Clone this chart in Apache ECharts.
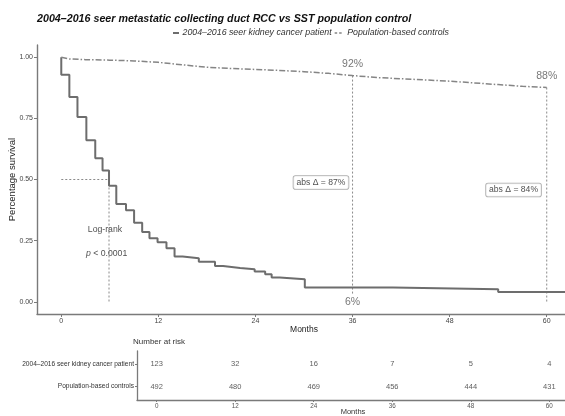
<!DOCTYPE html>
<html>
<head>
<meta charset="utf-8">
<script src="https://cdn.jsdelivr.net/npm/echarts@6/dist/echarts.min.js"></script>
<style>
html,body{margin:0;padding:0;background:#fff;}
#c{width:565px;height:416px;}
</style>
</head>
<body>
<div id="c"></div>
<script>
const chartTitle = '2004–2016 seer metastatic collecting duct RCC vs SST population control';
const seriesNames = ['2004–2016 seer kidney cancer patient', 'Population-based controls'];

// Kaplan-Meier estimates (months, survival)
const cancerMonths = [0, 0, 1, 2, 3.1, 4.2, 5.1, 5.9, 6.8, 8.0, 9.0, 10.0, 10.9, 11.9, 13.0, 14.0, 15.0, 17.0, 19.0, 20.0, 22.1, 23.9, 25.2, 26.0, 27.0, 30.1, 41.0, 54.0, 63];
const cancerSurv   = [1.0, 0.928, 0.837, 0.756, 0.661, 0.587, 0.537, 0.474, 0.400, 0.374, 0.323, 0.285, 0.260, 0.243, 0.219, 0.185, 0.178, 0.164, 0.146, 0.138, 0.133, 0.124, 0.113, 0.099, 0.092, 0.058, 0.051, 0.040, 0.040];

const controlMonths = [0, 1, 3, 6, 9, 12, 15, 18, 21, 24, 27, 30, 33, 36, 39, 42, 45, 48, 51, 54, 57, 60];
const controlSurv   = [1.0, 0.993, 0.990, 0.988, 0.985, 0.979, 0.969, 0.959, 0.954, 0.950, 0.946, 0.941, 0.934, 0.925, 0.917, 0.912, 0.907, 0.902, 0.895, 0.888, 0.881, 0.876];

const xTicks = [0, 12, 24, 36, 48, 60];
const yTicks = [0, 0.25, 0.5, 0.75, 1];

const riskMonths  = [0, 12, 24, 36, 48, 60];
const riskCancer  = [123, 32, 16, 7, 5, 4];
const riskControl = [492, 480, 469, 456, 444, 431];

const medianSurvival = 0.5;
const medianMonth = 5.9;
const milestoneMonths = [36, 60];
const milestoneControl = ['92%', '88%'];
const milestoneCancer = ['6%'];
const absDelta = ['abs Δ = 87%', 'abs Δ = 84%'];

const FONT = 'Liberation Sans, Arial, sans-serif';
const axisColor = '#7a7a7a';
const cancerColor = '#6d6d6d';
const controlColor = '#858585';
const controlDash = [6, 2, 1.5, 2];

const chart = echarts.init(document.getElementById('c'), null, {renderer: 'canvas'});

function zip(a, b) { return a.map((v, i) => [v, b[i]]); }

const dotted = {color: '#8a8a8a', width: 1, type: [2, 2]};
function segment(points) {
  return {
    type: 'line', data: points, symbol: 'none', silent: true,
    lineStyle: dotted, xAxisIndex: 0, yAxisIndex: 0, z: 1, animation: false
  };
}

const pctLabel = {fontSize: 10.5, color: '#555', fontFamily: FONT};
const boxLabel = {fontSize: 8.6, color: '#222', fontFamily: FONT, backgroundColor: '#fff',
  borderColor: '#9a9a9a', borderWidth: 0.8, borderRadius: 2, padding: [2, 3, 2, 3]};
const noteLabel = {fontSize: 8.7, color: '#222', fontFamily: FONT};

const annotations = [
  {value: [milestoneMonths[0], 0.972], text: milestoneControl[0], style: pctLabel},
  {value: [milestoneMonths[1], 0.923], text: milestoneControl[1], style: pctLabel},
  {value: [milestoneMonths[0], 0.0], text: milestoneCancer[0], style: pctLabel},
  {value: [32.1, 0.488], text: absDelta[0], style: boxLabel},
  {value: [55.9, 0.457], text: absDelta[1], style: boxLabel},
  {value: [5.4, 0.296], text: 'Log-rank', style: noteLabel},
  {value: [5.6, 0.198], text: '{i|p} < 0.0001', style: Object.assign({rich: {i: {fontStyle: 'italic', fontSize: 8.7, color: '#222', fontFamily: FONT}}}, noteLabel)}
];

const riskData = [];
riskMonths.forEach((m, i) => {
  riskData.push([m, 1, riskCancer[i]]);
  riskData.push([m, 0, riskControl[i]]);
});

// custom legend (measured text)
const legendFont = 'italic 8.8px ' + FONT;
const ctx = document.createElement('canvas').getContext('2d');
ctx.font = legendFont;
const w0 = ctx.measureText(seriesNames[0]).width;
const legY = 33;
let lx = 173;
const legendGraphics = [];
legendGraphics.push({type: 'line', shape: {x1: lx, y1: legY, x2: lx + 6, y2: legY},
  style: {stroke: cancerColor, lineWidth: 2}});
lx += 9.5;
legendGraphics.push({type: 'text', x: lx, y: legY, style: {text: seriesNames[0], font: legendFont,
  fill: '#333', textVerticalAlign: 'middle'}});
lx += w0 + 3;
legendGraphics.push({type: 'line', shape: {x1: lx, y1: legY, x2: lx + 9, y2: legY},
  style: {stroke: controlColor, lineWidth: 1.5, lineDash: [2.5, 2]}});
lx += 12.5;
legendGraphics.push({type: 'text', x: lx, y: legY, style: {text: seriesNames[1], font: legendFont,
  fill: '#333', textVerticalAlign: 'middle'}});

const option = {
  animation: false,
  backgroundColor: '#fff',
  textStyle: {fontFamily: FONT},
  title: {
    text: chartTitle, left: 32, top: 9,
    textStyle: {fontSize: 10.7, fontWeight: 'bold', fontStyle: 'italic', color: '#111', fontFamily: FONT}
  },
  graphic: legendGraphics,
  grid: [
    {left: 37, top: 45, width: 534, height: 269, outerBoundsMode: 'none', containLabel: false},
    {left: 137, top: 351, width: 432, height: 49, outerBoundsMode: 'none', containLabel: false}
  ],
  xAxis: [
    {
      type: 'value', gridIndex: 0, min: -3, max: 63,
      axisLine: {show: true, onZero: false, lineStyle: {color: axisColor, width: 1.4}},
      axisTick: {show: true, customValues: xTicks, length: 3, lineStyle: {color: axisColor}},
      axisLabel: {customValues: xTicks, fontSize: 7, color: '#444', margin: 4, fontFamily: FONT},
      splitLine: {show: false},
      name: 'Months', nameLocation: 'middle', nameGap: 11, nameMoveOverlap: false,
      nameTextStyle: {fontSize: 8.5, color: '#222', fontFamily: FONT}
    },
    {
      type: 'value', gridIndex: 1, min: -3, max: 63,
      axisLine: {show: true, onZero: false, lineStyle: {color: axisColor, width: 1.3}},
      axisTick: {show: true, customValues: riskMonths, length: 2, lineStyle: {color: axisColor}},
      axisLabel: {customValues: riskMonths, fontSize: 6.3, color: '#555', margin: 3, fontFamily: FONT},
      splitLine: {show: false},
      name: 'Months', nameLocation: 'middle', nameGap: 8, nameMoveOverlap: false,
      nameTextStyle: {fontSize: 7.5, color: '#333', fontFamily: FONT}
    }
  ],
  yAxis: [
    {
      type: 'value', gridIndex: 0, min: -0.05, max: 1.05,
      axisLine: {show: true, onZero: false, lineStyle: {color: axisColor, width: 1.4}},
      axisTick: {show: true, customValues: yTicks, length: 3, lineStyle: {color: axisColor}},
      axisLabel: {customValues: yTicks, fontSize: 7, color: '#444', margin: 4, fontFamily: FONT,
        formatter: v => Number(v).toFixed(2)},
      splitLine: {show: false},
      name: 'Percentage survival', nameLocation: 'middle', nameGap: 20, nameRotate: 90, nameMoveOverlap: false,
      nameTextStyle: {fontSize: 9.5, color: '#222', fontFamily: FONT}
    },
    {
      type: 'value', gridIndex: 1, min: -0.6, max: 1.6,
      axisLine: {show: true, onZero: false, lineStyle: {color: axisColor, width: 1.3}},
      axisTick: {show: true, customValues: [0, 1], length: 2, lineStyle: {color: axisColor}},
      axisLabel: {customValues: [0, 1], fontSize: 6.6, color: '#333', margin: 3, fontFamily: FONT,
        formatter: v => (Math.round(v) === 1 ? seriesNames[0] : seriesNames[1])},
      splitLine: {show: false},
      name: 'Number at risk', nameLocation: 'end', nameGap: 5, nameMoveOverlap: false,
      nameTextStyle: {fontSize: 8, color: '#333', fontFamily: FONT, align: 'left', padding: [0, 0, 0, -4]}
    }
  ],
  series: [
    {
      name: seriesNames[0], type: 'line', step: 'end', symbol: 'none',
      data: zip(cancerMonths, cancerSurv), xAxisIndex: 0, yAxisIndex: 0,
      lineStyle: {color: cancerColor, width: 2}, itemStyle: {color: cancerColor}, z: 3
    },
    {
      name: seriesNames[1], type: 'line', symbol: 'none',
      data: zip(controlMonths, controlSurv), xAxisIndex: 0, yAxisIndex: 0,
      lineStyle: {color: controlColor, width: 1.5, type: controlDash}, itemStyle: {color: controlColor}, z: 3
    },
    segment([[0, medianSurvival], [medianMonth, medianSurvival]]),
    segment([[medianMonth, medianSurvival], [medianMonth, 0]]),
    segment([[milestoneMonths[0], controlSurv[controlMonths.indexOf(36)]], [milestoneMonths[0], 0.03]]),
    segment([[milestoneMonths[1], controlSurv[controlMonths.indexOf(60)]], [milestoneMonths[1], 0]]),
    {
      type: 'scatter', xAxisIndex: 0, yAxisIndex: 0, symbolSize: 0, silent: true, z: 5,
      data: annotations.map(a => ({
        value: a.value,
        label: Object.assign({show: true, position: 'inside', formatter: a.text}, a.style)
      }))
    },
    {
      type: 'scatter', xAxisIndex: 1, yAxisIndex: 1, symbolSize: 0, silent: true,
      data: riskData,
      label: {show: true, position: 'inside', formatter: p => String(p.value[2]),
        fontSize: 7.5, color: '#333', fontFamily: FONT}
    }
  ]
};
chart.setOption(option);
</script>
</body>
</html>
